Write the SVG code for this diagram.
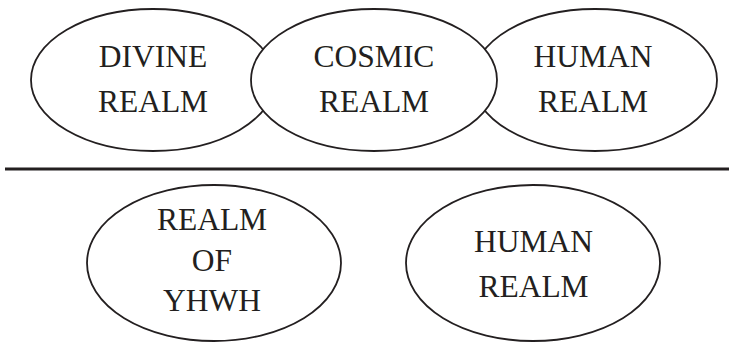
<svg xmlns="http://www.w3.org/2000/svg" width="733" height="342" viewBox="0 0 733 342">
<style>
.node{fill:#fff;stroke:#231f20;stroke-width:1.8}
.lbl{font-family:"Liberation Serif","Times New Roman",serif;font-size:31.5px;fill:#231f20;text-anchor:middle}
</style>
<rect width="733" height="342" fill="#fff"/>
<g id="divine">
<ellipse class="node" cx="153" cy="80" rx="122" ry="71"/>
<text class="lbl" x="153" y="66.7">DIVINE</text>
<text class="lbl" x="153" y="111.7">REALM</text>
</g>
<g id="human-top">
<ellipse class="node" cx="595" cy="80" rx="122" ry="71"/>
<text class="lbl" x="593" y="66.7">HUMAN</text>
<text class="lbl" x="593" y="111.7">REALM</text>
</g>
<g id="cosmic">
<ellipse class="node" cx="374" cy="80" rx="123" ry="71"/>
<text class="lbl" x="374" y="66.7">COSMIC</text>
<text class="lbl" x="374" y="111.7">REALM</text>
</g>
<g id="connectors">
<line x1="5" y1="169" x2="729" y2="169" stroke="#231f20" stroke-width="2.8"/>
</g>
<g id="yhwh">
<ellipse class="node" cx="214" cy="263" rx="127" ry="78"/>
<text class="lbl" x="212" y="230">REALM</text>
<text class="lbl" x="212" y="270.5">OF</text>
<text class="lbl" x="212" y="311">YHWH</text>
</g>
<g id="human-bottom">
<ellipse class="node" cx="533" cy="263" rx="127" ry="78"/>
<text class="lbl" x="533.5" y="251.7">HUMAN</text>
<text class="lbl" x="533.5" y="296.7">REALM</text>
</g>
</svg>
